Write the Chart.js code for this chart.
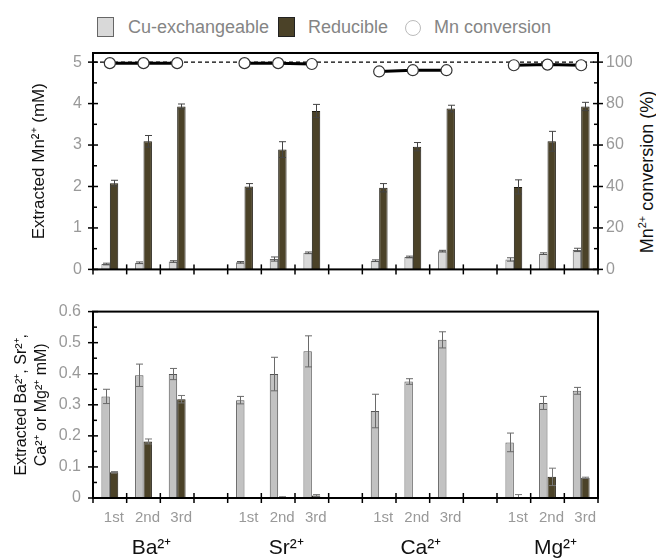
<!DOCTYPE html>
<html><head><meta charset="utf-8">
<script src="https://cdn.jsdelivr.net/npm/chart.js@4.4.1/dist/chart.umd.min.js"></script>
<style>
html,body{margin:0;padding:0;background:#fff;}
body{width:656px;height:559px;position:relative;overflow:hidden;font-family:"Liberation Sans",Arial,sans-serif;}
canvas{position:absolute;left:0;}
#c1{top:0;width:656px;height:290px;}
#c2{top:290px;width:656px;height:269px;}
.lg{position:absolute;font-size:18px;line-height:22px;color:#858585;white-space:nowrap;top:16px;}
.box{position:absolute;top:17px;width:17px;height:20px;box-sizing:border-box;border:1px solid #666;}
.circ{position:absolute;left:405px;top:20px;width:16px;height:16px;box-sizing:border-box;border:1px solid #bbb;border-radius:50%;background:#fff;}
#rt{position:absolute;left:547px;top:161px;width:200px;height:22px;line-height:22px;text-align:center;font-size:18px;color:#111;transform:rotate(-90deg);transform-origin:50% 50%;white-space:nowrap;}
sup{font-size:11px;vertical-align:7px;line-height:0;}
</style></head>
<body>
<div class="box" style="left:97px;background:#d9d9d9"></div>
<div class="lg" style="left:128px">Cu-exchangeable</div>
<div class="box" style="left:278px;background:#4b4228;border-color:#222"></div>
<div class="lg" style="left:308px">Reducible</div>
<div class="circ"></div>
<div class="lg" style="left:434px">Mn conversion</div>
<div id="rt">Mn<sup>2+</sup> conversion (%)</div>
<canvas id="c1" width="656" height="290"></canvas>
<canvas id="c2" width="656" height="269"></canvas>
<script>
// ---------- data ----------
const slots = ['1st','2nd','3rd','','1st','2nd','3rd','','1st','2nd','3rd','','1st','2nd','3rd'];
const groups = ['','Ba²⁺','','','','Sr²⁺','','','','Ca²⁺','','','','Mg²⁺',''];
const mnCuExch      = [0.13,0.16,0.19,null, 0.17,0.25,0.40,null, 0.21,0.30,0.44,null, 0.24,0.38,0.47];
const mnCuExchErr   = [0.02,0.02,0.02,null, 0.02,0.05,0.02,null, 0.02,0.02,0.02,null, 0.04,0.02,0.04];
const mnReducible   = [2.08,3.09,3.93,null, 2.00,2.89,3.82,null, 1.97,2.96,3.88,null, 1.99,3.09,3.93];
const mnReducibleErr= [0.07,0.14,0.06,null, 0.07,0.19,0.16,null, 0.10,0.10,0.08,null, 0.17,0.24,0.10];
const mnConversion  = [99.5,99.5,99.5,null, 99.5,99.5,99.1,null, 95.5,96.1,96.1,null, 98.5,98.8,98.5];
const exCuExch      = [0.327,0.395,0.399,null, 0.315,0.399,0.472,null, 0.280,0.375,0.509,null, 0.179,0.306,0.345];
const exCuExchErr   = [0.023,0.036,0.018,null, 0.012,0.054,0.050,null, 0.054,0.009,0.026,null, 0.030,0.021,0.011];
const exReducible   = [0.083,0.182,0.318,null, 0,0.003,0.008,null, 0,0,0,null, 0.003,0.068,0.065];
const exReducibleErr= [0.002,0.008,0.012,null, 0,0.001,0.003,null, 0,0,0,null, 0.008,0.028,0.002];

const FONT = '"Liberation Sans", Arial, sans-serif';
const TICKC = '#999';

// ---------- plugins ----------
function seg(ctx,x0,y0,x1,y1){ctx.beginPath();ctx.moveTo(x0,y0);ctx.lineTo(x1,y1);ctx.stroke();}
const errPlugin = {
  id:'errbars',
  afterDatasetsDraw(chart){
    const ctx = chart.ctx;
    chart.data.datasets.forEach((ds,i)=>{
      if(!ds.errors) return;
      const meta = chart.getDatasetMeta(i);
      const ys = chart.scales[meta.yAxisID];
      ctx.save(); ctx.strokeStyle = ds.errorColor || '#555'; ctx.lineWidth = 1;
      meta.data.forEach((el,j)=>{
        const v = ds.data[j], e = ds.errors[j];
        if(v==null || !e) return;
        const x = Math.round(el.x)+0.5;
        const yt = ys.getPixelForValue(v+e), yb = ys.getPixelForValue(Math.max(0,v-e));
        seg(ctx,x,yb,x,yt); seg(ctx,x-3.5,yt,x+3.5,yt); seg(ctx,x-3.5,yb,x+3.5,yb);
      });
      ctx.restore();
    });
  }
};
const framePlugin = {
  id:'frame',
  beforeDatasetsDraw(chart,args,o){
    if(o.dashedAt==null) return;
    const {ctx,chartArea:a,scales} = chart;
    const y = scales.yR.getPixelForValue(o.dashedAt);
    ctx.save(); ctx.strokeStyle='#000'; ctx.lineWidth=1.2; ctx.setLineDash([4,3]);
    seg(ctx,a.left,y,a.right,y); ctx.restore();
  },
  afterDraw(chart,args,o){
    const {ctx,chartArea:a,scales} = chart;
    ctx.save(); ctx.strokeStyle='#000';
    ctx.lineWidth=2; ctx.strokeRect(a.left,a.top,a.right-a.left,a.bottom-a.top);
    ctx.lineWidth=1.5;
    const yticks=(sc,major,minor,xAxis,dir)=>{
      const n = Math.floor(sc.max/minor+1e-6);
      for(let k=0;k<=n;k++){
        const v=k*minor, p=sc.getPixelForValue(v);
        const isMajor = Math.abs(v/major-Math.round(v/major))<1e-6;
        if(isMajor) seg(ctx,xAxis-5,p,xAxis+5,p);
        else seg(ctx,xAxis,p,xAxis+4*dir,p);
      }
    };
    yticks(scales.y,o.yMajor,o.yMinor,a.left,1);
    if(scales.yR) yticks(scales.yR,o.rMajor,o.rMinor,a.right,-1);
    const xs = scales.x, N = xs.getLabels().length;
    for(let k=0;k<=N;k++){
      const px = k===0?a.left:(k===N?a.right:(xs.getPixelForValue(k-1)+xs.getPixelForValue(k))/2);
      seg(ctx,px,a.bottom-5,px,a.bottom+5);
    }
    ctx.restore();
  }
};

// ---------- top chart ----------
new Chart(document.getElementById('c1'),{
  type:'bar',
  data:{labels:slots,datasets:[
    {label:'Cu-exchangeable',data:mnCuExch,errors:mnCuExchErr,errorColor:'#555',backgroundColor:'#d9d9d9',borderColor:'#666',borderWidth:1,barPercentage:1,categoryPercentage:0.5,yAxisID:'y',order:2},
    {label:'Reducible',data:mnReducible,errors:mnReducibleErr,errorColor:'#444',backgroundColor:'#4b4228',borderColor:'#1e1a10',borderWidth:1,barPercentage:1,categoryPercentage:0.5,yAxisID:'y',order:2},
    {type:'line',label:'Mn conversion',data:mnConversion,yAxisID:'yR',borderColor:'#000',borderWidth:3,pointRadius:5.5,pointBackgroundColor:'#fff',pointBorderColor:'#333',pointBorderWidth:1.2,spanGaps:false,order:0}
  ]},
  options:{
    responsive:false,animation:false,devicePixelRatio:1,
    layout:{padding:{top:53,left:0,right:0,bottom:0}},
    plugins:{legend:{display:false},tooltip:{enabled:false},
      frame:{yMajor:1,yMinor:0.5,rMajor:20,rMinor:10,dashedAt:100}},
    scales:{
      x:{type:'category',offset:true,grid:{display:false,drawTicks:false},border:{display:false},ticks:{display:false},afterFit:s=>{s.height=4;}},
      y:{position:'left',min:0,max:5.22,grid:{display:false,drawTicks:false},border:{display:false},
         ticks:{stepSize:1,includeBounds:false,color:TICKC,padding:11,font:{family:FONT,size:16}},
         title:{display:true,text:'Extracted Mn²⁺ (mM)',color:'#111',font:{family:FONT,size:17},padding:{top:29,bottom:0}},
         afterFit:s=>{s.width=93;}},
      yR:{position:'right',min:0,max:104.4,grid:{display:false,drawTicks:false},border:{display:false},
         ticks:{stepSize:20,includeBounds:false,color:TICKC,padding:8,font:{family:FONT,size:16}},
         afterFit:s=>{s.width=58;}}
    }
  },
  plugins:[framePlugin,errPlugin]
});

// ---------- bottom chart ----------
new Chart(document.getElementById('c2'),{
  type:'bar',
  data:{labels:slots,datasets:[
    {label:'Cu-exchangeable',data:exCuExch,errors:exCuExchErr,errorColor:'#6a6a6a',backgroundColor:'#c2c2c2',borderColor:'#555',borderWidth:1,barPercentage:1,categoryPercentage:0.5},
    {label:'Reducible',data:exReducible,errors:exReducibleErr,errorColor:'#777',backgroundColor:'#4b4228',borderColor:'#1e1a10',borderWidth:1,barPercentage:1,categoryPercentage:0.5}
  ]},
  options:{
    responsive:false,animation:false,devicePixelRatio:1,
    layout:{padding:{top:3,left:0,right:58,bottom:0}},
    plugins:{legend:{display:false},tooltip:{enabled:false},frame:{yMajor:0.1,yMinor:0.05}},
    scales:{
      x:{type:'category',offset:true,weight:0,grid:{display:false,drawTicks:false},border:{display:false},
         ticks:{color:TICKC,padding:11,labelOffset:4,autoSkip:false,maxRotation:0,font:{family:FONT,size:15}},
         afterFit:s=>{s.height=30;}},
      x2:{type:'category',labels:groups,offset:true,position:'bottom',weight:1,grid:{display:false,drawTicks:false},border:{display:false},
         ticks:{color:'#111',padding:8,labelOffset:8,autoSkip:false,maxRotation:0,font:{family:FONT,size:21}},
         afterFit:s=>{s.height=31;}},
      y:{position:'left',min:0,max:0.6,grid:{display:false,drawTicks:false},border:{display:false},
         ticks:{stepSize:0.1,color:TICKC,padding:12,font:{family:FONT,size:16}},
         title:{display:true,text:['Extracted Ba²⁺, Sr²⁺,','Ca²⁺ or Mg²⁺ mM)'],color:'#111',font:{family:FONT,size:16,lineHeight:1.25},padding:{top:12,bottom:0}},
         afterFit:s=>{s.width=93;}}
    }
  },
  plugins:[framePlugin,errPlugin]
});
</script>
</body></html>
